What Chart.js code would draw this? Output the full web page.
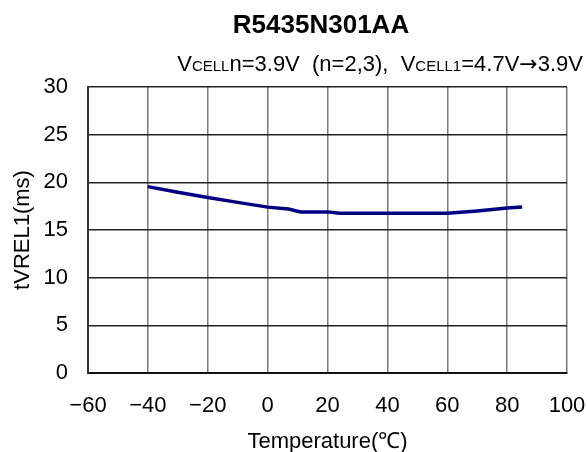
<!DOCTYPE html>
<html>
<head>
<meta charset="utf-8">
<script src="https://cdn.jsdelivr.net/npm/chart.js@4"></script>
<style>
html,body{margin:0;padding:0;background:#fff;}
#wrap{width:587px;height:452px;position:relative;}
</style>
</head>
<body>
<div id="wrap"><canvas id="c" width="587" height="452"></canvas></div>
<script>
const temperatures = [-40, -30, -20, -10, 0, 7, 11, 20, 24, 60, 70, 80, 85];
const tvrel1 = [19.55, 18.95, 18.4, 17.9, 17.4, 17.2, 16.9, 16.9, 16.75, 16.75, 17.0, 17.3, 17.4];
const xTicks = [-60, -40, -20, 0, 20, 40, 60, 80, 100];
const yTicks = [0, 5, 10, 15, 20, 25, 30];
const titleText = 'R5435N301AA';
const subtitleParts = [['V', 'big'], ['CELL', 'small'], ['n=3.9V  (n=2,3),  V', 'big'], ['CELL1', 'small'], ['=4.7V', 'big'], ['\u2192', 'arrow'], ['3.9V', 'big']];
const xTitle = 'Temperature(\u2103)';
const yTitle = 'tVREL1(ms)';

const labelFont = "'Liberation Sans', Arial, sans-serif";

const titlePlugin = {
  id: 'titles',
  afterDraw(chart) {
    const ctx = chart.ctx;
    ctx.save();
    ctx.fillStyle = '#000';
    ctx.textBaseline = 'alphabetic';
    ctx.font = "bold 26px 'Liberation Sans', Arial, sans-serif";
    ctx.textAlign = 'center';
    ctx.fillText(titleText, 321, 33);
    const fonts = {
      big: "22px 'Liberation Sans', Arial, sans-serif",
      small: "15px 'Liberation Sans', Arial, sans-serif",
      arrow: "22px 'DejaVu Sans', sans-serif"
    };
    let total = 0;
    subtitleParts.forEach(([t, s]) => { ctx.font = fonts[s]; total += ctx.measureText(t).width; });
    let x = 583 - total;
    ctx.textAlign = 'left';
    subtitleParts.forEach(([t, s]) => { ctx.font = fonts[s]; ctx.fillText(t, x, 71); x += ctx.measureText(t).width; });
    ctx.restore();
  }
};

new Chart(document.getElementById('c'), {
  type: 'line',
  data: {
    datasets: [{
      data: temperatures.map((t, i) => ({x: t, y: tvrel1[i]})),
      borderColor: '#000080',
      borderWidth: 3.5,
      pointRadius: 0,
      tension: 0,
      fill: false
    }]
  },
  options: {
    responsive: false,
    animation: false,
    layout: {padding: {top: 87, right: 20, left: 0, bottom: 0}},
    plugins: {legend: {display: false}, tooltip: {enabled: false}},
    scales: {
      x: {
        type: 'linear', min: -60, max: 100,
        afterBuildTicks: s => { s.ticks = xTicks.map(v => ({value: v})); },
        afterFit: s => { s.height = 79; s.paddingRight = 0; s.paddingLeft = 0; },
        grid: {color: '#777', lineWidth: 1.5, drawTicks: false},
        border: {color: '#111', width: 2},
        ticks: {
          padding: 20, color: '#000', maxRotation: 0,
          font: {family: labelFont, size: 22},
          callback: v => (v < 0 ? '\u2212' + Math.abs(v) : String(v))
        },
        title: {display: true, text: xTitle, color: '#000', font: {family: labelFont, size: 22}, padding: {top: 0, bottom: -3}}
      },
      y: {
        min: 0, max: 30,
        afterBuildTicks: s => { s.ticks = yTicks.map(v => ({value: v})); },
        afterFit: s => { s.width = 88; s.paddingTop = 0; s.paddingBottom = 0; },
        grid: {color: '#222', lineWidth: 1.5, drawTicks: false},
        border: {color: '#333', width: 2},
        ticks: {padding: 20, color: '#000', font: {family: labelFont, size: 22}},
        title: {display: true, text: yTitle, color: '#000', font: {family: labelFont, size: 22}, padding: {top: 10, bottom: 0}}
      }
    }
  },
  plugins: [titlePlugin]
});
</script>
</body>
</html>
